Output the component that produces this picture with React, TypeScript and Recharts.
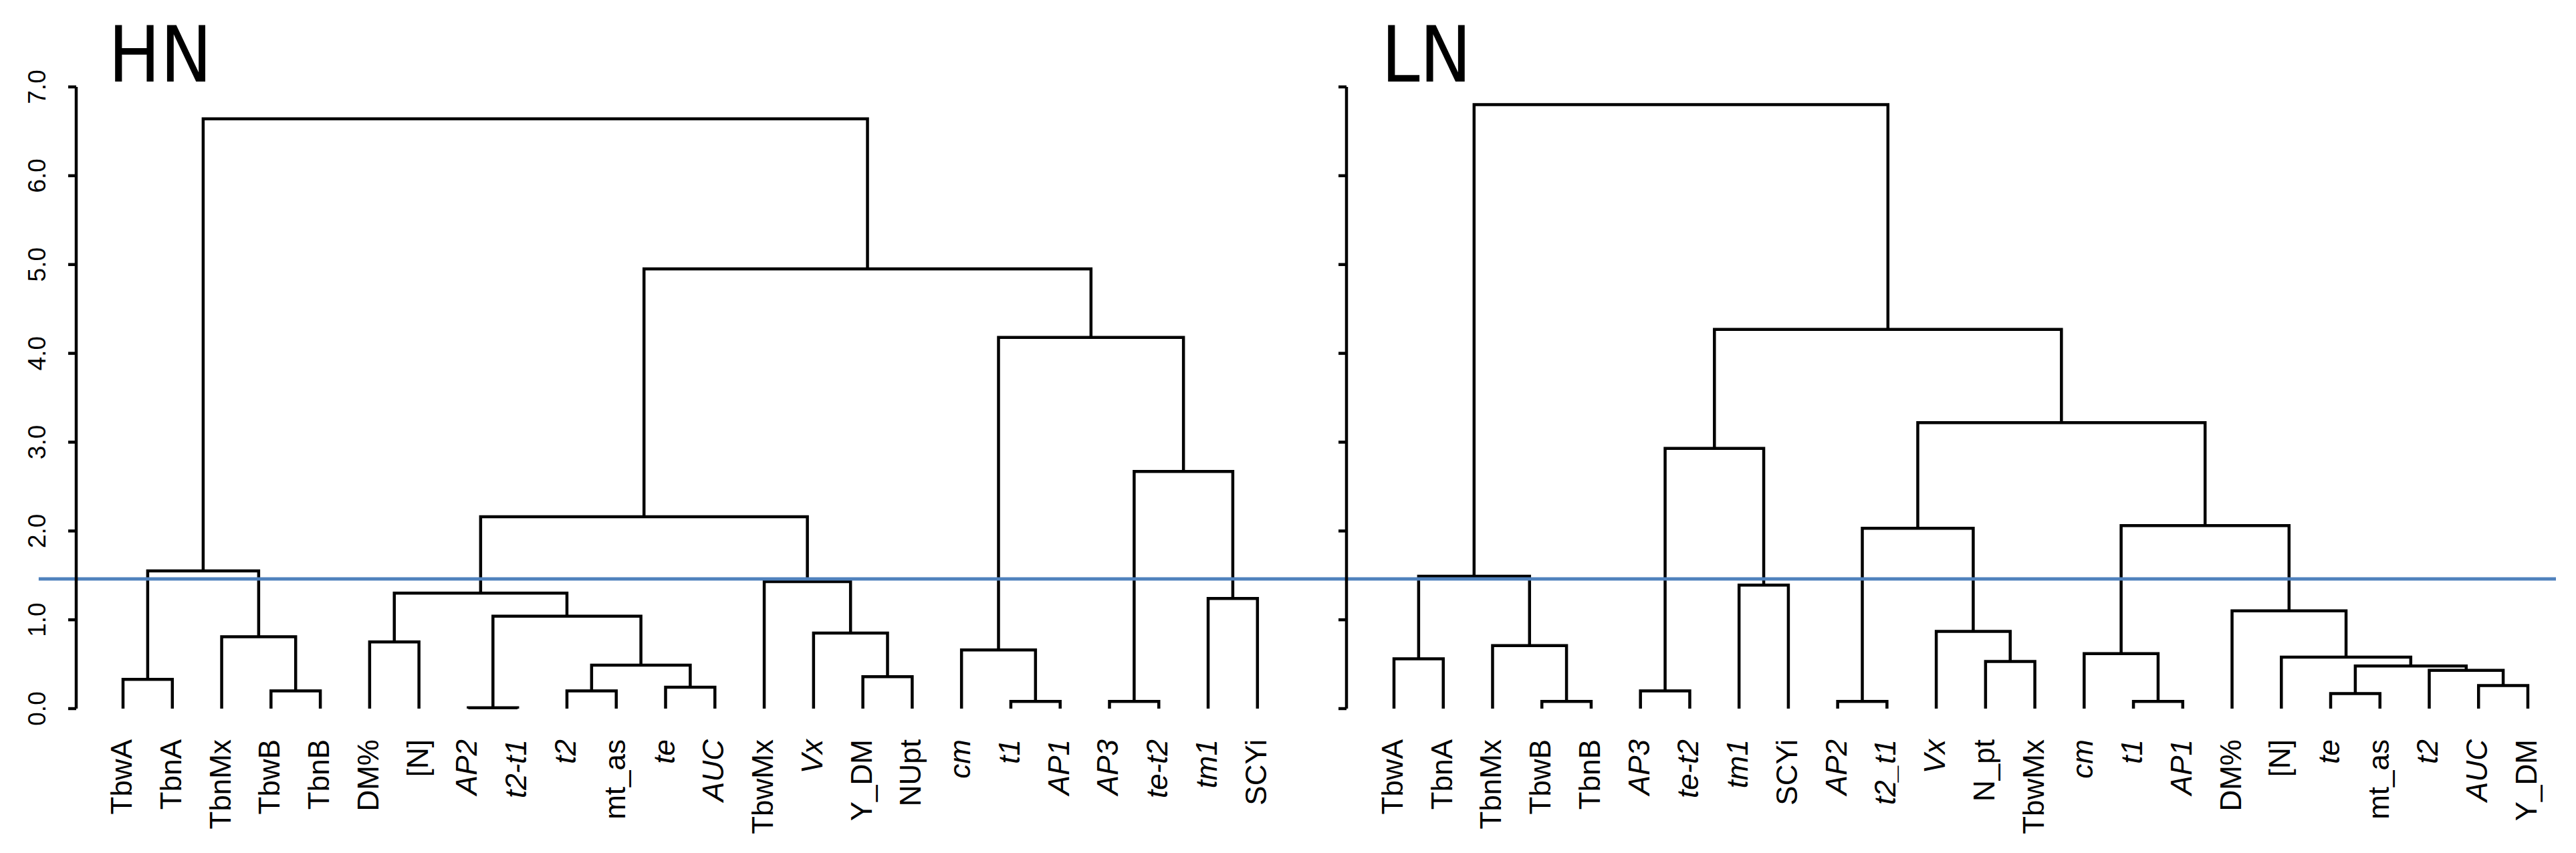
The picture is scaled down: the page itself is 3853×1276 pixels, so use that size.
import React from "react";
import { LineChart, Line, XAxis, YAxis, ReferenceLine } from "recharts";

// leaf order as drawn, left to right
const hnLeaves = ["TbwA", "TbnA", "TbnMx", "TbwB", "TbnB", "DM%", "[N]", "AP2", "t2-t1", "t2", "mt_as", "te", "AUC", "TbwMx", "Vx", "Y_DM", "NUpt", "cm", "t1", "AP1", "AP3", "te-t2", "tm1", "SCYi"];
const hnItalic = ["AP2", "t2-t1", "t2", "te", "AUC", "Vx", "cm", "t1", "AP1", "AP3", "te-t2", "tm1"];

const lnLeaves = ["TbwA", "TbnA", "TbnMx", "TbwB", "TbnB", "AP3", "te-t2", "tm1", "SCYi", "AP2", "t2_t1", "Vx", "N_pt", "TbwMx", "cm", "t1", "AP1", "DM%", "[N]", "te", "mt_as", "t2", "AUC", "Y_DM"];
const lnItalic = ["AP3", "te-t2", "tm1", "AP2", "t2_t1", "Vx", "cm", "t1", "AP1", "te", "t2", "AUC"];

// merges: id, left child, right child, height
const hnMerges = [
  { id: "#a", l: "TbwA", r: "TbnA", h: 0.33 },
  { id: "#b", l: "TbwB", r: "TbnB", h: 0.2 },
  { id: "#c", l: "TbnMx", r: "#b", h: 0.81 },
  { id: "#d", l: "#a", r: "#c", h: 1.55 },
  { id: "#e", l: "DM%", r: "[N]", h: 0.75 },
  { id: "#f", l: "AP2", r: "t2-t1", h: 0.01 },
  { id: "#g", l: "t2", r: "mt_as", h: 0.2 },
  { id: "#h", l: "te", r: "AUC", h: 0.24 },
  { id: "#i", l: "#g", r: "#h", h: 0.49 },
  { id: "#j", l: "#f", r: "#i", h: 1.04 },
  { id: "#k", l: "#e", r: "#j", h: 1.3 },
  { id: "#l", l: "Y_DM", r: "NUpt", h: 0.36 },
  { id: "#m", l: "Vx", r: "#l", h: 0.85 },
  { id: "#n", l: "TbwMx", r: "#m", h: 1.43 },
  { id: "#o", l: "#k", r: "#n", h: 2.16 },
  { id: "#p", l: "t1", r: "AP1", h: 0.08 },
  { id: "#q", l: "cm", r: "#p", h: 0.66 },
  { id: "#r", l: "AP3", r: "te-t2", h: 0.08 },
  { id: "#s", l: "tm1", r: "SCYi", h: 1.24 },
  { id: "#t", l: "#r", r: "#s", h: 2.67 },
  { id: "#u", l: "#q", r: "#t", h: 4.18 },
  { id: "#v", l: "#o", r: "#u", h: 4.95 },
  { id: "#w", l: "#d", r: "#v", h: 6.64 },
];

const lnMerges = [
  { id: "#a", l: "TbwA", r: "TbnA", h: 0.56 },
  { id: "#b", l: "TbwB", r: "TbnB", h: 0.08 },
  { id: "#c", l: "TbnMx", r: "#b", h: 0.71 },
  { id: "#d", l: "#a", r: "#c", h: 1.49 },
  { id: "#e", l: "AP3", r: "te-t2", h: 0.2 },
  { id: "#f", l: "tm1", r: "SCYi", h: 1.39 },
  { id: "#g", l: "#e", r: "#f", h: 2.93 },
  { id: "#h", l: "AP2", r: "t2_t1", h: 0.08 },
  { id: "#i", l: "N_pt", r: "TbwMx", h: 0.53 },
  { id: "#j", l: "Vx", r: "#i", h: 0.87 },
  { id: "#k", l: "#h", r: "#j", h: 2.03 },
  { id: "#l", l: "t1", r: "AP1", h: 0.08 },
  { id: "#m", l: "cm", r: "#l", h: 0.62 },
  { id: "#n", l: "te", r: "mt_as", h: 0.17 },
  { id: "#o", l: "AUC", r: "Y_DM", h: 0.26 },
  { id: "#p", l: "t2", r: "#o", h: 0.43 },
  { id: "#q", l: "#n", r: "#p", h: 0.48 },
  { id: "#r", l: "[N]", r: "#q", h: 0.58 },
  { id: "#s", l: "DM%", r: "#r", h: 1.1 },
  { id: "#t", l: "#m", r: "#s", h: 2.06 },
  { id: "#u", l: "#k", r: "#t", h: 3.22 },
  { id: "#v", l: "#g", r: "#u", h: 4.27 },
  { id: "#x", l: "#d", r: "#v", h: 6.8 },
];

const yTicks = [0, 1, 2, 3, 4, 5, 6, 7];
const cutHeight = 1.46;

const FONT = "'Liberation Sans', Arial, Helvetica, sans-serif";
const LW = 4.5;

type Merge = { id: string; l: string; r: string; h: number };

function buildLinks(leaves: string[], merges: Merge[]) {
  const pos: Record<string, { x: number; h: number }> = {};
  leaves.forEach((n, i) => (pos[n] = { x: i, h: 0 }));
  return merges.map((m) => {
    const L = pos[m.l];
    const R = pos[m.r];
    pos[m.id] = { x: (L.x + R.x) / 2, h: m.h };
    return [
      { x: L.x, y: L.h },
      { x: L.x, y: m.h },
      { x: R.x, y: m.h },
      { x: R.x, y: R.h },
    ];
  });
}

function LeafTick(props: any, leaves: string[], italic: string[]) {
  const { x, y, payload } = props;
  const name = leaves[payload.value];
  if (name === undefined) return <g />;
  const bx = x + 13;
  const by = y + 46;
  return (
    <text
      x={bx}
      y={by}
      transform={`rotate(-90 ${bx} ${by})`}
      textAnchor="end"
      fontFamily={FONT}
      fontSize={44}
      fontStyle={italic.includes(name) ? "italic" : "normal"}
      fill="#000"
    >
      {name}
    </text>
  );
}

function ValueTick(props: any) {
  const { y, payload } = props;
  const bx = 68;
  return (
    <text x={bx} y={y} transform={`rotate(-90 ${bx} ${y})`} textAnchor="middle" fontFamily={FONT} fontSize={37} fill="#000">
      {payload.value.toFixed(1)}
    </text>
  );
}

function Dendro({
  leaves, italic, merges, width, axisWidth, domain, cut, labels,
}: {
  leaves: string[]; italic: string[]; merges: Merge[]; width: number; axisWidth: number;
  domain: [number, number]; cut: [number, number]; labels: boolean;
}) {
  const links = buildLinks(leaves, merges);
  return (
    <LineChart width={width} height={1276} margin={{ top: 130, right: 0, bottom: 0, left: 0 }}>
      <XAxis
        type="number"
        dataKey="x"
        domain={domain}
        allowDataOverflow
        ticks={leaves.map((_, i) => i)}
        interval={0}
        height={216}
        axisLine={false}
        tickLine={false}
        tickSize={0}
        tickMargin={0}
        tick={(p: any) => LeafTick(p, leaves, italic)}
      />
      <YAxis
        type="number"
        domain={[0, 7]}
        ticks={yTicks}
        interval={0}
        width={axisWidth}
        tickSize={12}
        axisLine={{ stroke: "#000", strokeWidth: LW }}
        tickLine={{ stroke: "#000", strokeWidth: LW }}
        tick={labels ? ValueTick : () => <g />}
      />
      {links.map((pts, i) => (
        <Line
          key={i}
          data={pts}
          dataKey="y"
          type="linear"
          stroke="#000"
          strokeWidth={LW}
          strokeLinejoin="miter"
          dot={false}
          activeDot={false}
          isAnimationActive={false}
        />
      ))}
      <ReferenceLine
        segment={[{ x: cut[0], y: cutHeight }, { x: cut[1], y: cutHeight }]}
        stroke="#4F81BD"
        strokeWidth={5}
        ifOverflow="visible"
      />
    </LineChart>
  );
}

export default function App() {
  const titleStyle = {
    fontFamily: "'Liberation Sans Narrow', 'DejaVu Sans Condensed', 'Liberation Sans', sans-serif",
    fontSize: 115,
  };
  return (
    <div style={{ position: "absolute", left: 0, top: 0, width: 3853, height: 1276, background: "#fff" }}>
      <div style={{ position: "absolute", left: 0, top: 0 }}>
        <Dendro leaves={hnLeaves} italic={hnItalic} merges={hnMerges} width={1990} axisWidth={114}
          domain={[-0.949, 24.48]} cut={[-1.71, 24.48]} labels />
      </div>
      <div style={{ position: "absolute", left: 1990, top: 0 }}>
        <Dendro leaves={lnLeaves} italic={lnItalic} merges={lnMerges} width={1833} axisWidth={24}
          domain={[-0.963, 23.57]} cut={[-1.29, 23.57]} labels={false} />
      </div>
      <svg width={3853} height={1276} style={{ position: "absolute", left: 0, top: 0, pointerEvents: "none" }}>
        <text x={162} y={122} {...titleStyle} fill="#000">HN</text>
        <text x={2066} y={122} {...titleStyle} fill="#000">LN</text>
      </svg>
    </div>
  );
}
